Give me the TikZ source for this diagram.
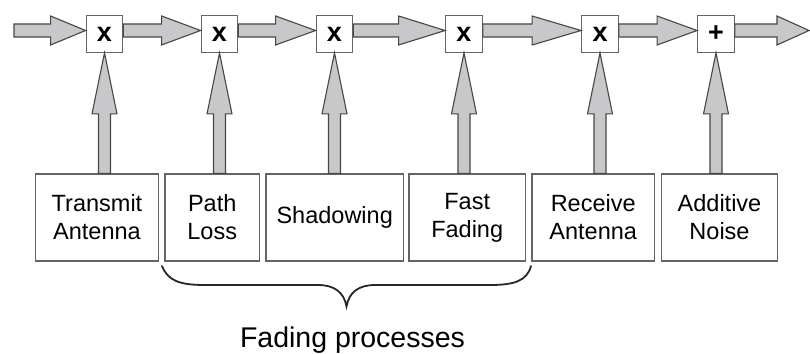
\documentclass[tikz,border=0pt]{standalone}
\usepackage{fontspec}
\setmainfont{Liberation Sans}
\usetikzlibrary{calc}
\definecolor{arrfill}{RGB}{200,200,202}
\definecolor{edge}{RGB}{70,70,70}
\definecolor{boxedge}{RGB}{100,100,100}
\tikzset{
  opbox/.style={draw=boxedge,line width=1.3pt,fill=white,minimum width=36.5pt,minimum height=36.5pt,inner sep=0pt,font=\fontsize{27}{27}\selectfont\bfseries},
  srcbox/.style={draw=boxedge,line width=1.3pt,minimum height=87pt,inner sep=0pt,align=center,font=\fontsize{23.5}{28}\selectfont},
  fat/.style={draw=edge,fill=arrfill,line width=1.1pt,line join=miter},
  bracestyle/.style={draw=black!85,line width=1.8pt,line cap=round}
}
\newcommand\harrow[3]{%
  \draw[fat] let \p1=(#1), \p2=(#2) in
    (\x1,\y1+6.5pt) -- (\x2-#3pt,\y1+6.5pt) -- (\x2-#3pt,\y1+14.5pt) -- (\x2,\y1)
    -- (\x2-#3pt,\y1-14.5pt) -- (\x2-#3pt,\y1-6.5pt) -- (\x1,\y1-6.5pt) -- cycle;}
\newcommand\varrow[2]{%
  \draw[fat] let \p1=(#1.south), \p2=(#2.north) in
    (\x1-6pt,\y2) -- (\x1-6pt,\y1-61pt) -- (\x1-12.5pt,\y1-61pt) -- (\x1,\y1)
    -- (\x1+12.5pt,\y1-61pt) -- (\x1+6pt,\y1-61pt) -- (\x1+6pt,\y2) -- cycle;}
\begin{document}
\begin{tikzpicture}[x=1pt,y=-1pt]
\useasboundingbox (0,0) rectangle (810,353);
% operator boxes
\node[opbox] (o1) at (104.5,34) {x};
\node[opbox] (o2) at (219.5,34) {x};
\node[opbox] (o3) at (334.5,34) {x};
\node[opbox] (o4) at (464,34) {x};
\node[opbox] (o5) at (600,34) {x};
\node[opbox] (o6) at (716,34) {+};
% source boxes
\node[srcbox,minimum width=122.6pt] (b1) at (97,217.5) {Transmit\\Antenna};
\node[srcbox,minimum width=94.3pt] (b2) at (212.2,217.5) {Path\\Loss};
\node[srcbox,minimum width=137.3pt] (b3) at (334.7,217.5) {Shadowing};
\node[srcbox,minimum width=116.3pt] (b4) at (467.2,217.5) {Fast\\Fading};
\node[srcbox,minimum width=122.3pt] (b5) at (593.2,217.5) {Receive\\Antenna};
\node[srcbox,minimum width=115.6pt] (b6) at (719.5,217.5) {Additive\\Noise};
% input/output
\coordinate (in) at (14,30.5);
\coordinate (out) at (809,30.5);
% horizontal arrows
\harrow{in}{[yshift=3.5pt]o1.west}{35}
\harrow{[yshift=3.5pt]o1.east}{[yshift=3.5pt]o2.west}{39}
\harrow{[yshift=3.5pt]o2.east}{[yshift=3.5pt]o3.west}{40}
\harrow{[yshift=3.5pt]o3.east}{[yshift=3.5pt]o4.west}{46.5}
\harrow{[yshift=3.5pt]o4.east}{[yshift=3.5pt]o5.west}{49}
\harrow{[yshift=3.5pt]o5.east}{[yshift=3.5pt]o6.west}{40}
\harrow{[yshift=3.5pt]o6.east}{out}{32}
% vertical arrows
\varrow{o1}{b1}
\varrow{o2}{b2}
\varrow{o3}{b3}
\varrow{o4}{b4}
\varrow{o5}{b5}
\varrow{o6}{b6}
% brace
\draw[bracestyle] (162,266) .. controls (168,281) and (180,285) .. (205,285)
  -- (318,285) .. controls (334,285) and (344,292) .. (346.5,306.5)
  .. controls (349,292) and (359,285) .. (375,285)
  -- (490,285) .. controls (514,285) and (527,281) .. (531,266);
\node[font=\fontsize{28.5}{28.5}\selectfont,anchor=base] (lbl) at (352.5,347) {Fading processes};
\end{tikzpicture}
\end{document}
